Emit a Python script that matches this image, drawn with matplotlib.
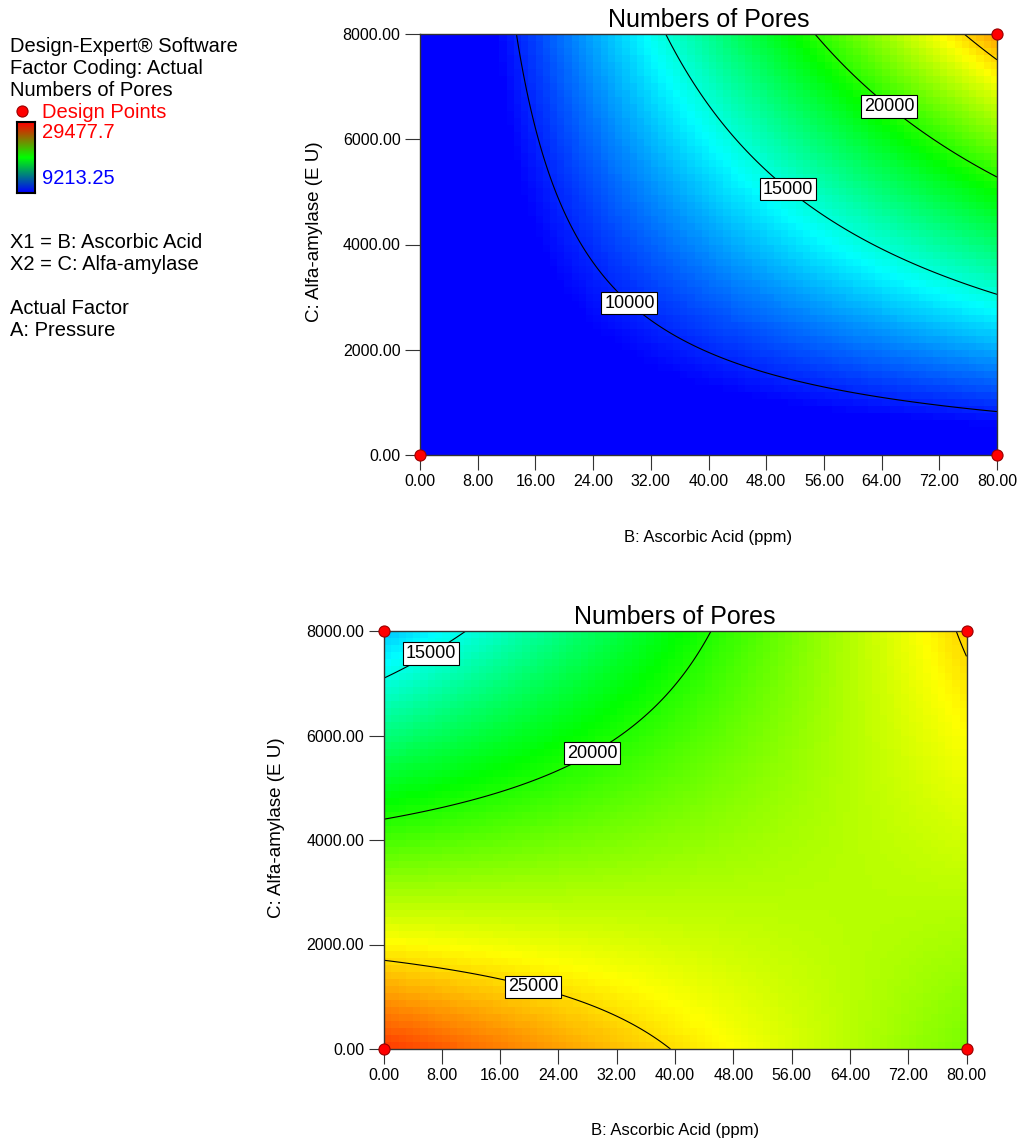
import numpy as np
import matplotlib
matplotlib.use("Agg")
import matplotlib.pyplot as plt
from matplotlib.colors import LinearSegmentedColormap
from matplotlib.lines import Line2D

plt.rcParams['font.family'] = ['Liberation Sans', 'DejaVu Sans']

# factor ranges (actual units)
b_range = [0.0, 80.0]       # B: Ascorbic Acid (ppm)
c_range = [0.0, 8000.0]     # C: Alfa-amylase (EU)

# predicted Numbers of Pores at the B/C corners
# rows: C low, C high ; columns: B low, B high
top_corners = [[7700.0, 8150.0],
               [6770.0, 26100.0]]
bottom_corners = [[28150.0, 21750.0],
                  [13320.0, 25210.0]]

# design points shown on each panel
top_pts_b = [0, 80, 80]
top_pts_c = [0, 0, 8000]
bot_pts_b = [0, 80, 0, 80]
bot_pts_c = [0, 0, 8000, 8000]

top_levels = [10000, 15000, 20000, 25000]
top_labeled = [10000, 15000, 20000]
bot_levels = [15000, 20000, 25000]

x_ticks = [0, 8, 16, 24, 32, 40, 48, 56, 64, 72, 80]
y_ticks = [0, 2000, 4000, 6000, 8000]

z_low, z_high = 9213.25, 29477.7

cmap = LinearSegmentedColormap.from_list(
    "de", ["#0000ff", "#00ffff", "#00ff00", "#ffff00", "#ff0000"])
bar_cmap = LinearSegmentedColormap.from_list(
    "debar", ["#0000ff", "#00ff00", "#ff0000"])

W, H = 1022, 1144
fig = plt.figure(figsize=(W / 100, H / 100), dpi=100)


def px_axes(left, top, right, bottom):
    return fig.add_axes([left / W, 1 - bottom / H, (right - left) / W, (bottom - top) / H])


def surface(corners, bb, cc):
    # 2FI model: at fixed A the response is bilinear in B and C
    u = (bb - b_range[0]) / (b_range[1] - b_range[0])
    v = (cc - c_range[0]) / (c_range[1] - c_range[0])
    z00, z10 = corners[0]
    z01, z11 = corners[1]
    return (z00 * (1 - u) * (1 - v) + z10 * u * (1 - v)
            + z01 * (1 - u) * v + z11 * u * v)


def panel(ax, corners, levels, labeled, label_pos, pts_b, pts_c, xlab_y, ylab_x):
    # blocky colour map like the original renderer
    nb, nc = 80, 60
    bc = np.linspace(b_range[0], b_range[1], nb)
    ccv = np.linspace(c_range[0], c_range[1], nc)
    BB, CC = np.meshgrid(bc, ccv)
    ax.imshow(surface(corners, BB, CC), origin='lower', cmap=cmap,
              vmin=z_low, vmax=z_high, aspect='auto', interpolation='nearest',
              extent=[b_range[0], b_range[1], c_range[0], c_range[1]])

    bf = np.linspace(b_range[0], b_range[1], 300)
    cf = np.linspace(c_range[0], c_range[1], 300)
    BF, CF = np.meshgrid(bf, cf)
    cs = ax.contour(BF, CF, surface(corners, BF, CF), levels=levels,
                    colors='black', linewidths=0.8)
    texts = ax.clabel(cs, levels=labeled, manual=label_pos, fmt='%d',
                      fontsize=13, inline=False)
    for t in texts:
        t.set_rotation(0)
        t.set_zorder(5)
        t.set_bbox(dict(boxstyle='square,pad=0.15', fc='white', ec='black', lw=0.8))

    ax.plot(pts_b, pts_c, 'o', ms=8, mfc='#ff0000', mec='#990000', mew=0.8,
            clip_on=False, zorder=6)

    ax.set_xlim(b_range)
    ax.set_ylim(c_range)
    ax.set_xticks(x_ticks)
    ax.set_yticks(y_ticks)
    ax.set_xticklabels([f"{v:.2f}" for v in x_ticks])
    ax.set_yticklabels([f"{v:.2f}" for v in y_ticks])
    ax.tick_params(direction='out', length=11, width=0.8, pad=3,
                   labelsize=11.5, color='#333333')
    for s in ax.spines.values():
        s.set_color('#333333')
        s.set_linewidth(1.0)

    ax.set_title("Numbers of Pores", fontsize=18, pad=5)
    ax.set_xlabel("B: Ascorbic Acid (ppm)", fontsize=12, va='center')
    ax.xaxis.set_label_coords(0.5, xlab_y)
    ax.set_ylabel("C: Alfa-amylase (E U)", fontsize=13.5, va='center')
    ax.yaxis.set_label_coords(ylab_x, 0.53)


ax1 = px_axes(420, 34, 997, 455)
panel(ax1, top_corners, top_levels, top_labeled,
      [(28.8, 2850), (51.2, 5090), (65.6, 6710)],
      top_pts_b, top_pts_c, -0.195, -0.182)

ax2 = px_axes(383.5, 631, 966.5, 1049)
panel(ax2, bottom_corners, bot_levels, bot_levels,
      [(5.5, 7800), (27.9, 5850), (20.8, 1330)],
      bot_pts_b, bot_pts_c, -0.194, -0.183)

# left-hand legend block
def ftext(x, y, s, **kw):
    fig.text(x / W, 1 - y / H, s, va='center', ha='left', fontsize=14.5, **kw)

ftext(10, 47, "Design-Expert\u00ae Software")
ftext(10, 68, "Factor Coding: Actual")
ftext(10, 90, "Numbers of Pores")
ftext(42, 112, "Design Points", color='#ff0000')
ftext(42, 133, "29477.7", color='#ff0000')
ftext(42, 178, "9213.25", color='#0000ff')
ftext(10, 243, "X1 = B: Ascorbic Acid")
ftext(10, 265, "X2 = C: Alfa-amylase")
ftext(10, 309, "Actual Factor")
ftext(10, 330, "A: Pressure")

fig.add_artist(Line2D([21.5 / W], [1 - 111 / H], transform=fig.transFigure,
                      marker='o', ms=8, mfc='#ff0000', mec='#990000', mew=0.8))

cax = px_axes(17, 122, 35, 193)
cax.imshow(np.linspace(1, 0, 100).reshape(-1, 1), cmap=bar_cmap, aspect='auto')
cax.set_xticks([])
cax.set_yticks([])
for s in cax.spines.values():
    s.set_color('black')
    s.set_linewidth(1.5)

fig.savefig("out.png", dpi=100)
